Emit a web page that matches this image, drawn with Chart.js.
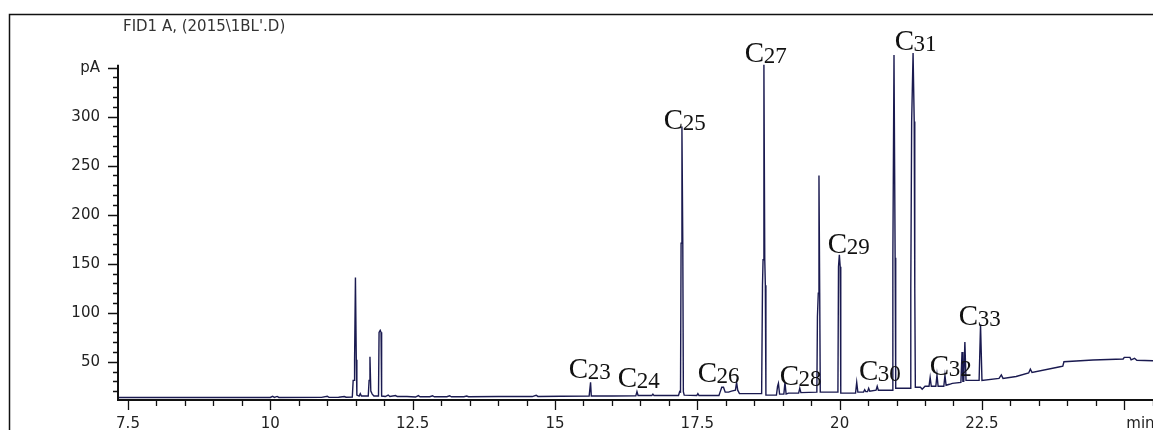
<!DOCTYPE html>
<html lang="en">
<head>
  <meta charset="UTF-8">
  <title>FID1 A chromatogram</title>
  <script src="https://cdn.jsdelivr.net/npm/chart.js"></script>
  <style>
    body {
      margin: 0;
      background: #fff;
    }
    canvas {
      display: block;
    }
  </style>
</head>
<body>

<canvas id="chrom" width="1153" height="430"></canvas>

<script>
// retention time (min) and detector signal (pA)
const traceTime = [
  7.32, 8.4, 9.3, 10.0, 10.04, 10.07, 10.12, 10.15, 10.9, 11.0, 11.03, 11.2, 11.3, 11.33, 11.44,
  11.455, 11.47, 11.48, 11.495, 11.51, 11.52, 11.56, 11.58, 11.6, 11.72, 11.735, 11.75, 11.765, 11.79, 11.82, 11.9, 11.91, 11.93, 11.945, 11.955,
  12.02, 12.07, 12.1, 12.2, 12.23, 12.4, 12.55, 12.6, 12.63, 12.8, 12.85, 12.88, 13.1, 13.15, 13.18, 13.4, 13.45, 13.48, 14.0, 14.6, 14.67, 14.7, 15.1, 15.6,
  15.612, 15.625, 15.638, 16.0, 16.42, 16.44, 16.46, 16.7, 16.72, 16.74, 17.17, 17.19, 17.205, 17.215, 17.23, 17.245, 17.255, 17.27,
  17.49, 17.51, 17.53, 17.88, 17.9, 17.93, 17.96, 17.99, 18.05, 18.1, 18.17, 18.19, 18.21, 18.24, 18.63,
  18.645, 18.655, 18.67, 18.685, 18.695, 18.705, 18.89, 18.91, 18.925, 18.945, 19.02, 19.04, 19.06, 19.1, 19.28, 19.3, 19.32, 19.6,
  19.61, 19.625, 19.637, 19.65, 19.66, 19.97, 19.98, 19.995, 20.01, 20.02,
  20.28, 20.3, 20.32, 20.42, 20.44, 20.46, 20.49, 20.51, 20.53, 20.64, 20.66, 20.68, 20.92,
  20.935, 20.955, 20.975, 20.985, 21.24, 21.25, 21.265, 21.29, 21.31, 21.32, 21.33,
  21.42, 21.45, 21.5, 21.57, 21.59, 21.61, 21.69, 21.71, 21.73, 21.83, 21.85, 21.87, 21.93, 21.98, 22.13,
  22.15, 22.165, 22.18, 22.2, 22.22, 22.45, 22.475, 22.5, 22.8, 22.84, 22.87, 23.1, 23.32, 23.35, 23.38, 23.85, 23.92, 23.94, 24.45, 24.98, 25.0, 25.1, 25.12, 25.18, 25.22, 25.51
];
const traceSignal = [
  13.5, 13.5, 13.6, 13.6, 14.8, 13.6, 14.6, 13.6, 13.7, 14.8, 13.7, 13.8, 14.5, 13.8, 14,
  31, 31, 52, 136, 52, 16, 15, 17.5, 15, 15, 31, 55, 20, 17, 15, 15, 80, 82, 80, 15,
  14.5, 16, 14.5, 15.5, 14.5, 14.5, 14, 15.5, 14.3, 14.3, 15.3, 14.3, 14.3, 15.3, 14.3, 14.3, 15, 14.3, 14.5, 14.5, 15.8, 14.6, 14.8, 15,
  15, 29, 15, 15, 15.2, 19.5, 15.5, 15.5, 17, 15.5, 15.5, 19.5, 19, 171, 290, 171, 19.5, 16,
  15.5, 17.5, 15.5, 15.5, 19, 24, 24, 19, 19, 20, 21, 29, 21, 17.5, 17.5,
  128, 154, 353, 154, 128, 16, 16, 25, 28, 17, 17, 29, 17, 18, 18, 23, 18.5, 19,
  96, 120, 240, 120, 19, 19, 147, 159, 147, 18,
  18, 29, 19, 19, 21.5, 19.5, 19.5, 23, 20, 21, 25, 21, 21,
  156, 363, 156, 23, 23, 125, 295, 365, 295, 125, 24,
  24, 22, 25, 25, 34, 25, 25, 36.5, 25, 25, 36, 26, 27, 28, 29,
  60, 30, 30, 70, 31, 31, 88, 31, 33, 36.5, 33, 35, 38.5, 42.5, 39, 44.7, 45.5, 50, 51.8, 52.8, 54.5, 54.5, 52, 53.5, 51.5, 51
];

// alkane peak labels: carbon number, and where the label sits (min, pA)
const labelCarbons = ['23', '24', '25', '26', '27', '28', '29', '30', '31', '32', '33'];
const labelTimes   = [15.615, 16.476, 17.284, 17.88, 18.707, 19.32, 20.165, 20.71, 21.34, 21.956, 22.466];
const labelSignals = [33.5, 24.3, 287.8, 29.4, 356.2, 26.3, 161, 31.4, 368.5, 36.5, 87.6];

const xTickLabels = [7.5, 10, 12.5, 15, 17.5, 20, 22.5];
const yTickLabels = [50, 100, 150, 200, 250, 300];
const yUnitAt = 350;   // the "pA" label sits where 350 would be
const xUnitAt = 25;    // the "min" label sits where 25 would be
const title = 'FID1 A, (2015\\1BL\'.D)';

const ink = '#1a1a50';

const points = traceTime.map((t, i) => ({ x: t, y: traceSignal[i] }));

// frame, title, axis lines, tick marks, peak labels
const decor = {
  id: 'decor',
  afterDraw(chart) {
    const ctx = chart.ctx;
    const xs = chart.scales.x, ys = chart.scales.y;
    const left = chart.chartArea.left, bottom = chart.chartArea.bottom;
    ctx.save();

    // outer frame
    ctx.strokeStyle = '#111';
    ctx.lineWidth = 1.5;
    ctx.beginPath();
    ctx.moveTo(9.5, 440);
    ctx.lineTo(9.5, 14.5);
    ctx.lineTo(1160, 14.5);
    ctx.stroke();

    ctx.fillStyle = '#333';
    ctx.font = '15px "DejaVu Sans"';
    ctx.textBaseline = 'middle';
    ctx.textAlign = 'left';
    ctx.fillText(title, 123, 27);

    // axes
    ctx.strokeStyle = '#111';
    ctx.lineWidth = 2;
    ctx.beginPath();
    ctx.moveTo(left, ys.getPixelForValue(353));
    ctx.lineTo(left, bottom + 2);
    ctx.moveTo(left - 1, bottom + 1);
    ctx.lineTo(chart.width, bottom + 1);
    ctx.stroke();

    ctx.lineWidth = 1.3;
    ctx.beginPath();
    for (let v = 20; v <= yUnitAt; v += 10) {
      const py = Math.round(ys.getPixelForValue(v)) + 0.5;
      const len = v % 50 === 0 ? 10 : 5;
      ctx.moveTo(left - len, py);
      ctx.lineTo(left, py);
    }
    for (let t = 7.5; t <= 25.5; t += 0.5) {
      const px = Math.round(xs.getPixelForValue(t)) + 0.5;
      const len = (t % 2.5 === 0) ? 9 : 5;
      ctx.moveTo(px, bottom + 2);
      ctx.lineTo(px, bottom + 2 + len);
    }
    ctx.stroke();

    ctx.fillStyle = '#222';
    ctx.font = '15px "DejaVu Sans"';
    ctx.textAlign = 'left';
    ctx.textBaseline = 'middle';
    ctx.fillText('min', xs.getPixelForValue(xUnitAt) + 2, bottom + 25);

    // C23 ... C33
    ctx.fillStyle = '#111';
    ctx.textBaseline = 'alphabetic';
    labelCarbons.forEach((n, i) => {
      const cx = xs.getPixelForValue(labelTimes[i]);
      const by = ys.getPixelForValue(labelSignals[i]);
      ctx.font = '29px "Liberation Serif"';
      const wc = ctx.measureText('C').width;
      ctx.font = '23px "Liberation Serif"';
      const wn = ctx.measureText(n).width;
      const x0 = cx - (wc + wn) / 2;
      ctx.font = '29px "Liberation Serif"';
      ctx.fillText('C', x0, by);
      ctx.font = '23px "Liberation Serif"';
      ctx.fillText(n, x0 + wc - 0.5, by + 1);
    });

    ctx.restore();
  }
};

new Chart(document.getElementById('chrom'), {
  type: 'line',
  data: {
    datasets: [{
      data: points,
      borderColor: ink,
      borderWidth: 1.4,
      pointRadius: 0,
      tension: 0,
      fill: false
    }]
  },
  options: {
    responsive: false,
    animation: false,
    layout: { padding: { top: 50, right: 0, bottom: 0, left: 0 } },
    plugins: {
      legend: { display: false },
      tooltip: { enabled: false }
    },
    scales: {
      x: {
        type: 'linear',
        min: 7.3243,
        max: 25.5044,
        grid: { display: false, drawTicks: false },
        border: { display: false },
        afterBuildTicks: s => { s.ticks = xTickLabels.map(v => ({ value: v })); },
        afterFit: s => { s.height = 31; },
        ticks: {
          autoSkip: false,
          maxRotation: 0,
          padding: 16,
          color: '#222',
          font: { family: 'DejaVu Sans', size: 15 },
          callback: v => String(v)
        }
      },
      y: {
        min: 12,
        max: 368,
        grid: { display: false, drawTicks: false },
        border: { display: false },
        afterBuildTicks: s => { s.ticks = yTickLabels.concat([yUnitAt]).map(v => ({ value: v })); },
        afterFit: s => { s.width = 118; },
        ticks: {
          autoSkip: false,
          padding: 18,
          color: '#222',
          font: { family: 'DejaVu Sans', size: 15 },
          callback: v => (v === yUnitAt ? 'pA' : String(v))
        }
      }
    }
  },
  plugins: [decor]
});
</script>

</body>
</html>
